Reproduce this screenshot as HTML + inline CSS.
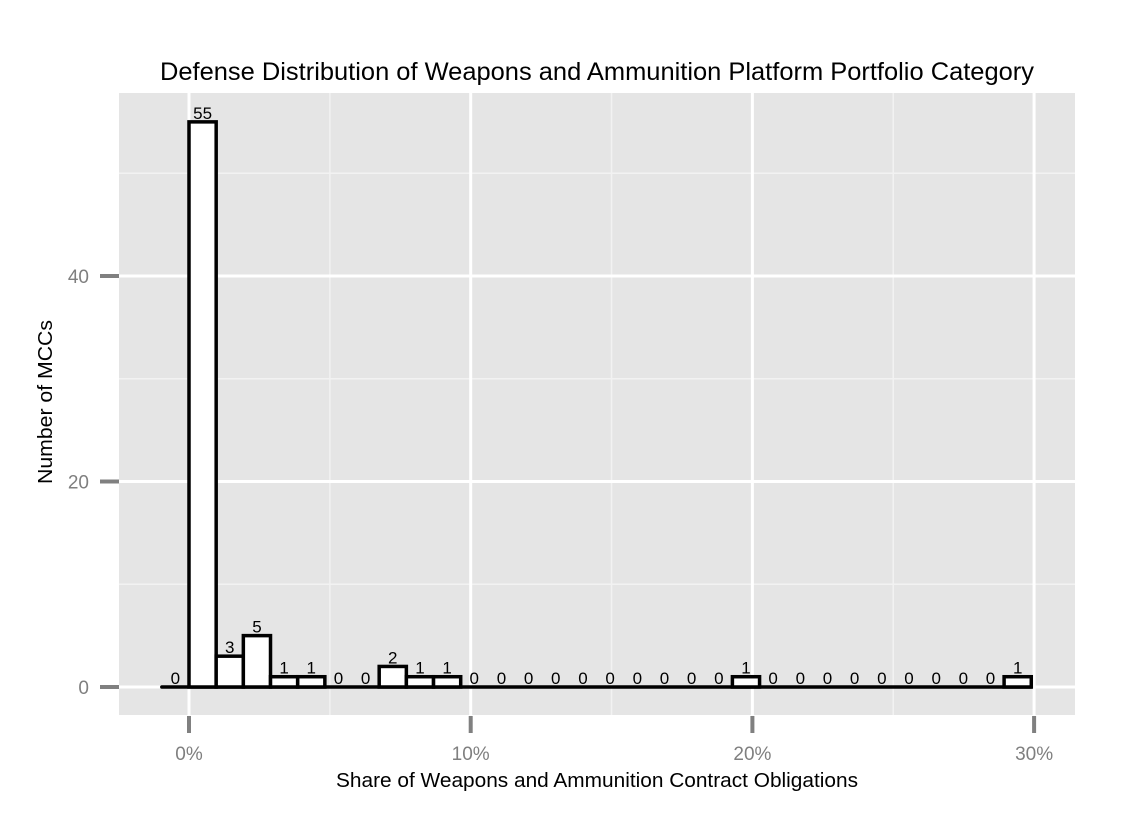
<!DOCTYPE html>
<html><head><meta charset="utf-8"><style>
body{margin:0;background:#fff;}
svg text{font-family:"Liberation Sans",Arial,sans-serif;}
</style></head><body>
<svg id="chart" width="1125" height="825" xmlns="http://www.w3.org/2000/svg">
<rect width="1125" height="825" fill="#fff"/>
<rect x="119" y="93" width="956" height="622" fill="#e5e5e5"/>
<g id="grid"></g><g id="bars"></g><g id="axes"></g>
<text x="597" y="80" text-anchor="middle" font-size="25" textLength="874" lengthAdjust="spacingAndGlyphs">Defense Distribution of Weapons and Ammunition Platform Portfolio Category</text>
<text x="597" y="787" text-anchor="middle" font-size="20" textLength="522" lengthAdjust="spacingAndGlyphs">Share of Weapons and Ammunition Contract Obligations</text>
<text transform="translate(52,402) rotate(-90)" text-anchor="middle" font-size="20" textLength="164" lengthAdjust="spacingAndGlyphs">Number of MCCs</text>
</svg>
<script>
const binStarts = [-1,0,1,2,3,4,5,6,7,8,9,10,11,12,13,14,15,16,17,18,19,20,21,22,23,24,25,26,27,28,29,30];
const counts = [0,55,3,5,1,1,0,0,2,1,1,0,0,0,0,0,0,0,0,0,0,1,0,0,0,0,0,0,0,0,0,1];
const xTicks = [0,10,20,30];
const xTickLabels = ["0%","10%","20%","30%"];
const xMinor = [5,15,25];
const yTicks = [0,20,40];
const yMinor = [10,30,50];
const binWidth = 0.9645;
const NS="http://www.w3.org/2000/svg";
const x = v => 189 + v*28.17;
const y = v => 687 - v*10.275;
function mk(tag, attrs, parent){const e=document.createElementNS(NS,tag);for(const k in attrs)e.setAttribute(k,attrs[k]);parent.appendChild(e);return e;}
const grid=document.getElementById('grid'), bars=document.getElementById('bars'), axes=document.getElementById('axes');
yMinor.forEach(v=>{const l=mk('line',{x1:119,x2:1075,y1:y(v),y2:y(v),stroke:'#f2f2f2','stroke-width':1.5},grid);

});
xMinor.forEach(v=>{const l=mk('line',{x1:x(v),x2:x(v),y1:93,y2:715,stroke:'#f2f2f2','stroke-width':1.5},grid);

});
yTicks.forEach(v=>{const l=mk('line',{x1:119,x2:1075,y1:y(v),y2:y(v),stroke:'#fff','stroke-width':3},grid);


const t=mk('line',{x1:100,x2:119,y1:y(v),y2:y(v),stroke:'#808080','stroke-width':4},axes);


const tx=mk('text',{x:89,y:y(v)+7,'text-anchor':'end','font-size':19,fill:'#7f7f7f'},axes);tx.textContent=v;

});
xTicks.forEach((v,i)=>{const l=mk('line',{x1:x(v),x2:x(v),y1:93,y2:715,stroke:'#fff','stroke-width':3},grid);


const t=mk('line',{x1:x(v),x2:x(v),y1:716,y2:733,stroke:'#808080','stroke-width':4},axes);


const tx=mk('text',{x:x(v),y:760,'text-anchor':'middle','font-size':19,fill:'#7f7f7f'},axes);tx.textContent=xTickLabels[i];

});
const bw=binWidth*28.17;
const base=mk('line',{x1:189+binStarts[0]*bw,x2:189+(binStarts[binStarts.length-1]+1)*bw,y1:y(0),y2:y(0),stroke:'#000','stroke-width':3.5,'stroke-linecap':'round'},bars);


binStarts.forEach((b,i)=>{const x0=189+b*bw, w=bw, c=counts[i];
if(c>0){const r=mk('rect',{x:x0,y:y(c),width:w,height:y(0)-y(c),fill:'#fff',stroke:'#000','stroke-width':3.5},bars);

}
const t=mk('text',{x:x0+w/2,y:y(c)-3,'text-anchor':'middle','font-size':17},bars);t.textContent=c;

});
</script>
</body></html>
